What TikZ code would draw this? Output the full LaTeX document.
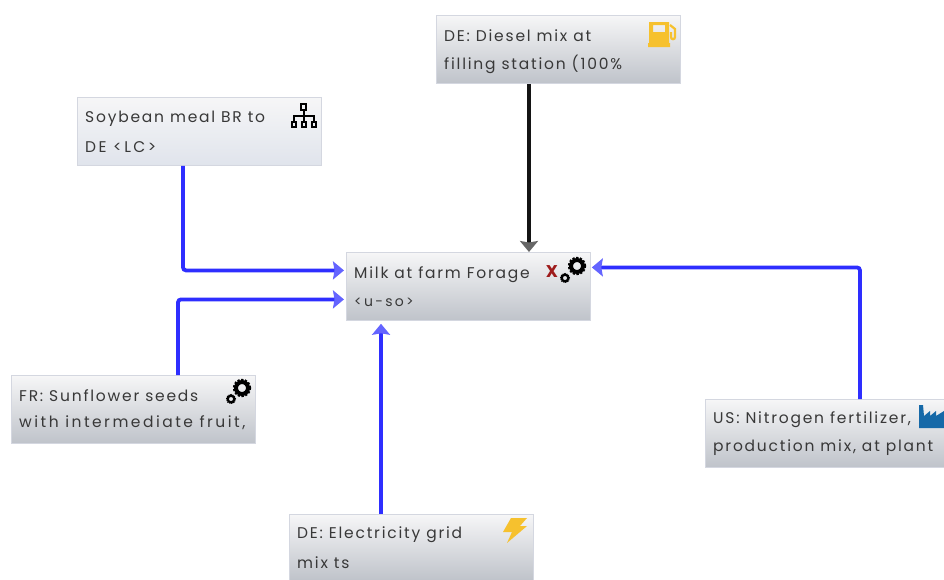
\documentclass[tikz,border=0pt]{standalone}
\usepackage{fontspec}
\setmainfont{Poppins}
\newfontfamily\boxfont[LetterSpace=11.5]{Poppins}
\newfontfamily\tagfont[LetterSpace=16]{Poppins}
\usetikzlibrary{positioning}
\usetikzlibrary{arrows.meta}
\definecolor{flowblue}{HTML}{2E2EFF}
\definecolor{tipblue}{HTML}{6464FF}
\definecolor{tipgrey}{HTML}{666666}
\definecolor{boxline}{HTML}{D4D7E0}
\definecolor{boxtop}{HTML}{F6F6F7}
\definecolor{boxbottom}{HTML}{BFC3CA}
\definecolor{softbottom}{HTML}{E0E4EC}
\definecolor{fuelyellow}{HTML}{F6C12E}
\definecolor{factoryblue}{HTML}{1669A8}
\definecolor{xred}{HTML}{9E1B1B}
\tikzset{
    procbox/.style={draw=boxline,line width=0.8pt,minimum width=244pt,minimum height=68pt,anchor=north west,top color=boxtop,bottom color=boxbottom,shading angle=0},
    lightbox/.style={procbox,bottom color=softbottom},
    boxtext/.style={anchor=west,inner sep=0,text=black!78,font=\boxfont\fontsize{15.5}{18}\selectfont},
    widetext/.style={boxtext,font=\tagfont\fontsize{15.5}{18}\selectfont},
    smalltext/.style={boxtext,font=\tagfont\fontsize{14}{16}\selectfont},
    flow/.style={draw=flowblue,line width=3.8pt,rounded corners=3pt,-{Stealth[inset=1.5pt,length=11pt,width=18pt,color=tipblue]}},
    greyflow/.style={draw=black!92,line width=3.8pt,-{Stealth[inset=1.5pt,length=11pt,width=18pt,color=tipgrey]}},
    pics/cog/.style={code={
        \draw[black,line width=#1*2.4pt,dash pattern=on #1*2.2pt off #1*1.5pt] (0,0) circle (#1*8pt);
        \draw[black,line width=#1*4pt] (0,0) circle (#1*6pt);
    }},
}
\begin{document}
\begin{tikzpicture}[x=1pt,y=-1pt]
    \useasboundingbox (0,0) rectangle (944,579);
    \node (Diesel) [procbox] at (436,15) {};
    \node (Soy) [lightbox] at (77,97) {};
    \node (Milk) [procbox] at (346,252) {};
    \node (Sun) [procbox] at (11,375) {};
    \node (Nitro) [procbox] at (705,399) {};
    \node (Elec) [procbox,minimum height=66pt] at (289,514) {};
    % box texts
    \node (DieselA) [boxtext] at (444,36) {DE: Diesel mix at};
    \node (DieselB) [boxtext] at (444,64) {filling station (100\%};
    \node (SoyA) [boxtext] at (85,119) {Soybean meal BR to};
    \node (SoyB) [widetext] at (85,147) {DE <LC>};
    \node (MilkA) [boxtext] at (354,275) {Milk at farm Forage};
    \node (MilkB) [smalltext] at (354,302) {<u-so>};
    \node (SunA) [boxtext] at (19,396) {FR: Sunflower seeds};
    \node (SunB) [widetext] at (19,423) {with intermediate fruit,};
    \node (NitroA) [boxtext] at (713,420) {US: Nitrogen fertilizer,};
    \node (NitroB) [boxtext] at (713,448) {production mix, at plant};
    \node (ElecA) [boxtext] at (297,535) {DE: Electricity grid};
    \node (ElecB) [boxtext] at (297,563) {mix ts};
    % connectors
    \draw[flow] ([xshift=106pt]Soy.south west) |- ([xshift=-2pt,yshift=16pt]Milk.west);
    \draw[flow] ([xshift=167pt]Sun.north west) |- ([xshift=-2pt,yshift=-13pt]Milk.west);
    \draw[flow] ([xshift=92pt]Elec.north west) -- ([xshift=35pt,yshift=-3pt]Milk.south west);
    \draw[flow] ([xshift=155pt]Nitro.north west) |- ([xshift=1pt,yshift=19pt]Milk.east);
    \draw[greyflow] ([xshift=93pt]Diesel.south west) -- ([xshift=183pt]Milk.north west);
    % icons
    \node (MilkX) [anchor=center,inner sep=0,text=xred,font=\fontsize{17}{17}\selectfont\bfseries] at (552,272) {X};
    \pic at (577,266) {cog=1};
    \pic at (565,278) {cog=0.55};
    \pic at (242,388) {cog=1};
    \pic at (231,399) {cog=0.55};
    % fuel pump
    \fill[fuelyellow,even odd rule] (649,22) -- (649,43) -- (648,43) -- (648,47) -- (670,47) -- (670,43) -- (669,43) -- (669,22) -- cycle
        (653,25) rectangle (665,32);
    \draw[fuelyellow,line width=2.2pt] (670,25) -- (675,29) -- (675,37) .. controls (675,40) and (671,40) .. (671,37) -- (671,32);
    % hierarchy
    \draw[black,line width=2pt] (301,104) rectangle (306,110) (303.5,110) -- (303.5,116) (294,122) -- (294,116) -- (314,116) -- (314,122) (303.5,116) -- (303.5,122);
    \draw[black,line width=2pt] (292,122) rectangle (296,127) (301.5,122) rectangle (305.5,127) (312,122) rectangle (316,127);
    % factory
    \fill[factoryblue] (919,428) -- (919,405) -- (923,405) -- (924,416) -- (930,411) -- (930,416) -- (936,411) -- (936,416) -- (944,411) -- (944,428) -- cycle;
    % lightning
    \fill[fuelyellow] (511,518) -- (527,518) -- (520,526) -- (527,526) -- (507,543) -- (512,532) -- (503,532) -- cycle;
\end{tikzpicture}
\end{document}
